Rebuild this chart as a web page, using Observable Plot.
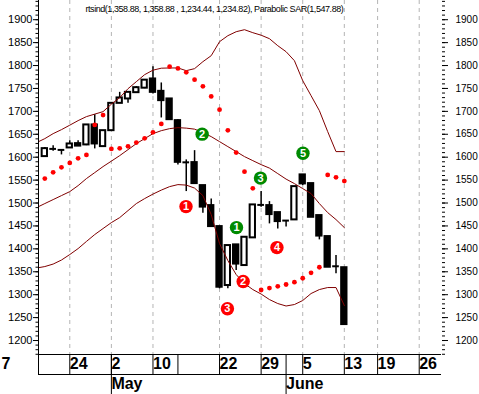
<!DOCTYPE html>
<html><head><meta charset="utf-8">
<script src="https://cdn.jsdelivr.net/npm/d3@7"></script>
<script src="https://cdn.jsdelivr.net/npm/@observablehq/plot@0.6"></script>
<style>html,body{margin:0;padding:0;background:#fff;} svg{display:block}</style>
</head><body><div id="chart"></div>
<script>
// ---- data (trading-day index, Apr 24 = 0) ----
const candleDays = [-3,-2,-1,0,1,2,3,4,5,6,7,8,9,10,11,12,13,14,15,16,17,18,19,20,21,22,23,24,25,26,27,28,29,30,31,32,33];
const opens  = [1601.3,1618.1,1615.9,1620.2,1629.6,1626.8,1670.4,1623.1,1657.9,1717.5,1727.1,1740.8,1750.6,1770.7,1743.7,1727.1,1679.8,1588.8,1588.2,1538.0,1494.4,1448.6,1320.0,1408.7,1363.6,1424.0,1495.9,1494.4,1479.1,1461.7,1463.2,1561.4,1542.4,1472.6,1426.8,1362.0,1358.88];
const highs  = [1620.9,1625.2,1615.9,1636.1,1636.1,1671.0,1692.8,1657.9,1717.5,1741.5,1741.5,1753.9,1768.1,1797.5,1762.0,1727.1,1681.9,1594.1,1614.3,1538.0,1509.0,1448.6,1407.2,1408.7,1425.3,1495.9,1525.1,1503.1,1479.1,1461.7,1535.8,1561.4,1542.4,1472.6,1426.8,1385.4,1358.88];
const lows   = [1599.1,1612.8,1605.0,1620.2,1623.1,1625.2,1618.1,1623.1,1657.9,1717.5,1717.5,1739.7,1749.5,1738.0,1685.6,1681.9,1583.2,1525.0,1542.4,1477.6,1448.6,1312.8,1312.8,1352.7,1363.6,1424.0,1490.7,1454.5,1443.6,1447.9,1463.2,1538.0,1468.9,1419.6,1359.9,1345.5,1234.44];
const closes = [1618.7,1618.1,1615.9,1628.9,1624.2,1670.4,1628.9,1657.9,1717.5,1729.3,1741.5,1751.7,1768.1,1741.5,1723.4,1681.9,1588.8,1588.8,1542.4,1491.1,1448.6,1316.3,1407.2,1366.8,1425.3,1495.9,1495.9,1474.8,1459.5,1461.7,1535.8,1541.7,1468.9,1427.9,1359.9,1362.0,1234.82];
const sarValues = [1553.3,1567.0,1577.9,1587.5,1597.5,1605.0,1670.4,1691.8,1618.0,1619.4,1623.7,1631.8,1641.2,1654.2,1672.6,1797.5,1793.8,1785.1,1769.2,1754.6,1732.7,1703.7,1658.6,1610.0,1568.5,1532.1,1310.2,1314.5,1318.2,1322.2,1327.2,1335.9,1347.6,1359.9,1561.4,1556.1,1547.88];

const bandDays = [-4,-3,-2,-1,0,1,2,3,4,5,6,7,8,9,10,11,12,13,14,15,16,17,18,19,20,21,22,23,24,25,26,27,28,29,30,31,32,33];
const upperBand  = [1631.8,1640.5,1651.4,1660.1,1669.9,1679.8,1688.5,1694.0,1699.4,1715.7,1729.9,1749.5,1764.8,1780.1,1789.9,1794.2,1794.7,1794.7,1788.8,1793.2,1808.4,1821.5,1852.0,1865.1,1873.8,1878.2,1871.7,1866.2,1858.6,1843.3,1830.2,1810.6,1767.0,1734.3,1701.6,1655.8,1612.2,1612.2];
const middleBand = [1490.0,1498.8,1507.5,1516.2,1524.9,1538.0,1553.3,1566.4,1579.5,1591.4,1603.4,1616.5,1629.6,1640.5,1651.4,1657.9,1662.3,1664.5,1663.4,1661.2,1653.6,1644.9,1634.0,1623.1,1612.2,1601.3,1592.5,1583.8,1576.2,1564.2,1552.2,1542.4,1531.5,1520.6,1498.8,1479.1,1463.9,1446.4];
const lowerBand  = [1358.1,1361.4,1366.8,1375.6,1387.6,1400.6,1416.1,1431.2,1444.3,1457.3,1468.2,1483.5,1498.8,1509.7,1519.5,1528.2,1535.8,1540.2,1539.1,1532.6,1516.2,1474.8,1411.6,1374.5,1343.9,1324.3,1311.2,1301.4,1289.4,1280.7,1275.3,1278.5,1287.3,1302.5,1311.2,1315.6,1315.6,1276.3];

const redMarkerDays   = [13.97, 20.84, 18.95, 24.9];
const redMarkerValues = [1492.2, 1328.7, 1269.2, 1402.8];
const redMarkerLabels = ["1", "2", "3", "4"];
const greenMarkerDays   = [20.04, 15.91, 22.92, 28.03];
const greenMarkerValues = [1446.4, 1650.3, 1554.4, 1608.5];
const greenMarkerLabels = ["1", "2", "3", "5"];

const xDomain = [-3.76, 44.68];
const yDomain = [1169.5, 1941.9];
const dayTickDays   = [xDomain[0], 0, 5, 10, 13, 18, 23, 28, 33, 37, 42];
const dayTickLabels = ["", "24", "2", "10", "", "22", "29", "5", "13", "19", "26"];
const gridDays = [0, 5, 10, 18, 23, 28, 33, 37, 42];
const monthTickDays = [5, 26];
const monthLabels = ["May", "June"];
const leftCutLabel = ["7"];
const yMajorTicks = [1200,1250,1300,1350,1400,1450,1500,1550,1600,1650,1700,1750,1800,1850,1900];
const yMinorTicks = d3.range(1170, 1941, 10);
const titleText = ["rtsind(1,358.88, 1,358.88 , 1,234.44, 1,234.82), Parabolic SAR(1,547.88)"];

// ---- derived tables ----
const candles = candleDays.map((day, k) => ({day, open: opens[k], high: highs[k], low: lows[k], close: closes[k]}));
const upC = candles.filter(d => d.close > d.open);
const downC = candles.filter(d => d.close < d.open);
const dojiC = candles.filter(d => d.close === d.open);
const sar = candleDays.map((day, k) => ({day, value: sarValues[k]}));
const bands = bandDays.map((day, k) => ({day, upper: upperBand[k], middle: middleBand[k], lower: lowerBand[k]}));
const redM = redMarkerDays.map((day, k) => ({day, value: redMarkerValues[k], label: redMarkerLabels[k]}));
const greenM = greenMarkerDays.map((day, k) => ({day, value: greenMarkerValues[k], label: greenMarkerLabels[k]}));
const dayLabelMap = new Map(dayTickDays.map((d, k) => [d, dayTickLabels[k]]));
const monthLabelMap = new Map(monthTickDays.map((d, k) => [d, monthLabels[k]]));

const FONT = "'Liberation Sans', Arial, Helvetica, sans-serif";
const HW = 0.32;

const chart = Plot.plot({
  width: 479, height: 394,
  marginLeft: 38, marginRight: 38, marginTop: 0, marginBottom: 40,
  x: {domain: xDomain, label: null},
  y: {domain: yDomain, label: null},
  style: {background: "white", fontFamily: FONT, color: "black", overflow: "visible"},
  marks: [
    Plot.ruleX(gridDays, {stroke: "#b4b4b4", strokeDasharray: "4,4"}),
    // candles
    Plot.ruleX(candles, {x: "day", y1: "low", y2: "high", stroke: "black", strokeWidth: 1.5}),
    Plot.rect(upC, {x1: d => d.day - HW, x2: d => d.day + HW, y1: "open", y2: "close", fill: "white", stroke: "black", strokeWidth: 2}),
    Plot.rect(downC, {x1: d => d.day - HW, x2: d => d.day + HW, y1: "open", y2: "close", fill: "black", stroke: "black", strokeWidth: 2}),
    Plot.ruleY(dojiC, {y: "open", x1: d => d.day - 0.4, x2: d => d.day + 0.4, stroke: "black", strokeWidth: 2}),
    // bands
    Plot.line(bands, {x: "day", y: "upper", stroke: "#800000", strokeWidth: 1, clip: true}),
    Plot.line(bands, {x: "day", y: "middle", stroke: "#800000", strokeWidth: 1, clip: true}),
    Plot.line(bands, {x: "day", y: "lower", stroke: "#800000", strokeWidth: 1, clip: true}),
    // parabolic SAR
    Plot.dot(sar, {x: "day", y: "value", r: 2.4, fill: "#ff0000", stroke: "none"}),
    // numbered signals
    Plot.dot(redM, {x: "day", y: "value", r: 6.7, fill: "#ff0000", stroke: "none"}),
    Plot.text(redM, {x: "day", y: "value", text: "label", fill: "white", fontWeight: "bold", fontSize: 11}),
    Plot.dot(greenM, {x: "day", y: "value", r: 6.7, fill: "#008a00", stroke: "none"}),
    Plot.text(greenM, {x: "day", y: "value", text: "label", fill: "white", fontWeight: "bold", fontSize: 11}),
    // frame lines
    Plot.ruleX([xDomain[0]], {stroke: "black"}),
    Plot.ruleY([yDomain[0]], {stroke: "black"}),
    Plot.ruleY([yDomain[0]], {stroke: "black", dy: 20}),
    // y axes
    Plot.axisY({anchor: "left", ticks: yMinorTicks, tickSize: 2.5, tickFormat: () => "", label: null}),
    Plot.axisY({anchor: "left", ticks: yMajorTicks, tickSize: 5, tickPadding: 1, tickFormat: d => String(d), fontSize: 11, label: null}),
    Plot.axisY({anchor: "right", ticks: yMinorTicks, tickSize: 3, tickFormat: () => "", label: null}),
    Plot.axisY({anchor: "right", ticks: yMajorTicks, tickSize: 6, tickPadding: 8, tickFormat: d => String(d), fontSize: 10, label: null}),
    // x axis rows
    Plot.axisX({anchor: "bottom", ticks: dayTickDays, tickSize: 20, tickPadding: -17, tickFormat: d => dayLabelMap.get(d) ?? "", textAnchor: "start", fontSize: 16, fontWeight: "bold", label: null}),
    Plot.axisX({anchor: "bottom", ticks: monthTickDays, tickSize: 40, tickPadding: -17, tickFormat: d => monthLabelMap.get(d) ?? "", textAnchor: "start", fontSize: 16, fontWeight: "bold", label: null}),
    Plot.text(leftCutLabel, {text: d => d, frameAnchor: "bottom-left", dx: -37, dy: 3, lineAnchor: "top", textAnchor: "start", fontSize: 16, fontWeight: "bold"}),
    // title
    Plot.text(titleText, {text: d => d, frameAnchor: "top-left", dx: 47, dy: 5, lineAnchor: "top", textAnchor: "start", fontSize: 9}),
  ]
});
chart.querySelectorAll("text").forEach(t => {
  if (t.textContent.startsWith("rtsind")) t.setAttribute("letter-spacing", "-0.45");
});
document.getElementById("chart").appendChild(chart);
</script>
</body></html>
